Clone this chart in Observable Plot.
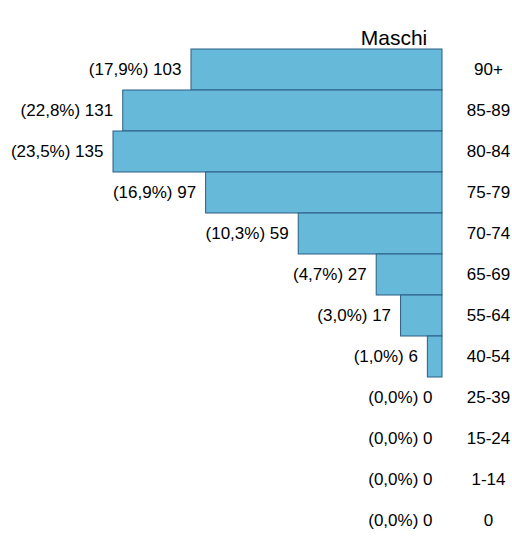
<!DOCTYPE html>
<html>
<head>
<meta charset="utf-8">
<script src="https://cdn.jsdelivr.net/npm/d3@7"></script>
<script src="https://cdn.jsdelivr.net/npm/@observablehq/plot@0.6"></script>
<style>
  body { margin: 0; background: #fff; }
  #wrap { position: relative; width: 512px; height: 538px; }
  #title { position: absolute; left: 344px; width: 100px; top: 26px; text-align: center;
    font-family: "Liberation Sans", Arial, sans-serif; font-size: 21px; color: #000; z-index: 2; }
</style>
</head>
<body>
<div id="wrap"><div id="title">Maschi</div></div>
<script>
const ageGroups = ["90+", "85-89", "80-84", "75-79", "70-74", "65-69", "55-64", "40-54", "25-39", "15-24", "1-14", "0"];
const counts = [103, 131, 135, 97, 59, 27, 17, 6, 0, 0, 0, 0];
const percents = ["17,9", "22,8", "23,5", "16,9", "10,3", "4,7", "3,0", "1,0", "0,0", "0,0", "0,0", "0,0"];

const data = ageGroups.map((g, i) => ({age: g, count: counts[i], label: `(${percents[i]}%) ${counts[i]}`}));

const chart = Plot.plot({
  width: 512,
  height: 538,
  margin: 0,
  style: {fontFamily: "'Liberation Sans', Arial, sans-serif", fontSize: "17px", background: "transparent"},
  x: {domain: [0, 135], range: [442, 113], axis: null},
  y: {domain: ageGroups, range: [47, 543], padding: 0, axis: null},
  marks: [
    Plot.barX(data.filter(d => d.count > 0), {x: "count", y: "age", fill: "#67b9d9", stroke: "#2b5d84", strokeWidth: 1}),
    Plot.text(data, {x: "count", y: "age", text: "label", textAnchor: "end", dx: -10, fontSize: 17, fill: "#000"}),
    Plot.text(data, {x: 0, y: "age", text: "age", dx: 46, fontSize: 17, fill: "#000"})
  ]
});
document.getElementById("wrap").appendChild(chart);
chart.style.position = "absolute";
chart.style.left = "0";
chart.style.top = "0";
</script>
</body>
</html>
